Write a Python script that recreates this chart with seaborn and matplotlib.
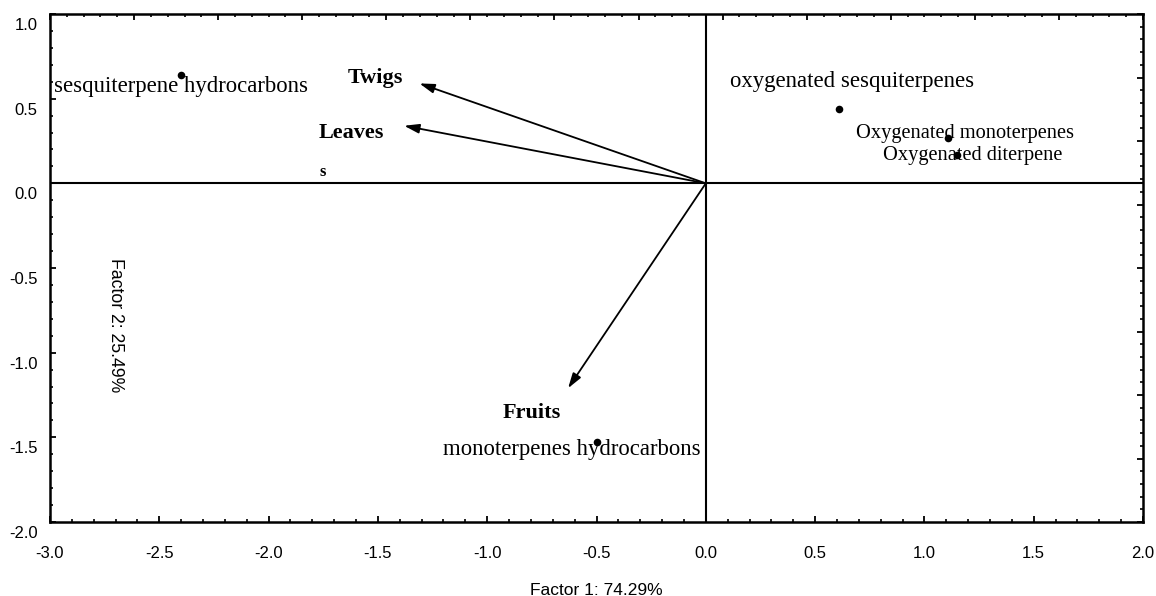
import matplotlib
matplotlib.use("Agg")
import matplotlib.pyplot as plt
import matplotlib.transforms as mtransforms
from matplotlib.ticker import MultipleLocator, FormatStrFormatter
import seaborn as sns
import pandas as pd

# ---- data ----
variables = ["sesquiterpene hydrocarbons", "oxygenated sesquiterpenes",
             "Oxygenated monoterpenes", "Oxygenated diterpene",
             "monoterpenes hydrocarbons"]
factor1 = [-2.40, 0.61, 1.11, 1.15, -0.50]
factor2 = [0.64, 0.44, 0.27, 0.17, -1.53]

organs = ["Twigs", "Leaves", "Fruits"]
load1 = [-1.31, -1.38, -0.63]
load2 = [0.59, 0.34, -1.21]

x_label = "Factor 1: 74.29%"
y_label = "Factor 2: 25.49%"

# label offsets (points) relative to their marks, and label sizes
var_offsets = [(0, -8), (9, 20), (12, 3), (11, -1), (-18, -5)]
var_sizes = [16.4, 16.4, 14.7, 14.7, 16.4]
organ_offsets = [(-32, 4), (-38, -5), (-26, -18)]

sns.set_style("white")
serif = ["Liberation Serif", "DejaVu Serif"]
sans = ["Liberation Sans", "DejaVu Sans"]
plt.rcParams["font.family"] = sans
plt.rcParams["text.color"] = "black"
plt.rcParams["axes.labelcolor"] = "black"
plt.rcParams["xtick.color"] = "black"
plt.rcParams["ytick.color"] = "black"

fig = plt.figure(figsize=(11.56, 5.96), dpi=100)
ax = fig.add_axes([50/1156, 74/596, 1093/1156, 508/596])

df = pd.DataFrame({"f1": factor1, "f2": factor2, "var": variables})
sns.scatterplot(data=df, x="f1", y="f2", ax=ax, color="black", s=30,
                edgecolor="black", linewidth=0, zorder=5, legend=False)

ax.set_xlim(-3, 2)
ax.set_ylim(-2, 1)
ax.axhline(0, color="black", lw=1.5, zorder=1)
ax.axvline(0, color="black", lw=1.5, zorder=1)

for name, x, y, (dx, dy), fs in zip(variables, factor1, factor2, var_offsets, var_sizes):
    ax.annotate(name, (x, y), xytext=(dx, dy), textcoords="offset points",
                ha="center", va="center", fontsize=fs, family=serif,
                color="black", zorder=4)

for name, x, y, (dx, dy) in zip(organs, load1, load2, organ_offsets):
    ax.annotate("", xy=(x, y), xytext=(0, 0),
                arrowprops=dict(arrowstyle="-|>,head_length=0.9,head_width=0.28",
                                color="black", lw=1.3, shrinkA=0, shrinkB=0))
    ax.annotate(name, (x, y), xytext=(dx, dy), textcoords="offset points",
                ha="center", va="center", fontsize=16, fontweight="bold",
                family=serif, color="black")
# stray clipped character near Leaves
ax.annotate("s", (load1[1], load2[1]), xytext=(-59, -33), textcoords="offset points",
            ha="center", va="center", fontsize=12, fontweight="bold",
            family=serif, color="black")

ax.set_xlabel(x_label, fontsize=12.5, labelpad=16, color="black")
ax.set_ylabel("")
ax.text(0.06, 0.388, y_label, transform=ax.transAxes, rotation=270,
        ha="center", va="center", fontsize=12.7, color="black")

ax.xaxis.set_major_locator(MultipleLocator(0.5))
ax.xaxis.set_minor_locator(MultipleLocator(0.1))
ax.yaxis.set_major_locator(MultipleLocator(0.5))
ax.yaxis.set_minor_locator(MultipleLocator(0.1))
ax.xaxis.set_major_formatter(FormatStrFormatter("%.1f"))
ax.yaxis.set_major_formatter(FormatStrFormatter("%.1f"))
ax.tick_params(axis="both", which="major", direction="in", length=4, width=1.3,
               labelsize=12, colors="black")
ax.tick_params(axis="both", which="minor", direction="in", length=2.5, width=1.2)
ax.tick_params(axis="x", which="major", pad=17)
ax.tick_params(axis="y", which="major", pad=9)
ax.tick_params(left=True, bottom=True, top=False, right=False, which="both")
for lab in ax.get_yticklabels():
    lab.set_transform(lab.get_transform() +
                      mtransforms.ScaledTranslation(0, -0.10, fig.dpi_scale_trans))

for sp in ax.spines.values():
    sp.set_color("black")
    sp.set_linewidth(1.8)

# secondary scales on top and right (ticks only)
axt = ax.twiny()
axt.set_xlim(-4, 2.5)
axt.xaxis.set_major_locator(MultipleLocator(0.5))
axt.xaxis.set_minor_locator(MultipleLocator(0.1))
axt.tick_params(axis="x", which="major", direction="in", length=4, width=1.3,
                labeltop=False)
axt.tick_params(axis="x", which="minor", direction="in", length=2.5, width=1.2)

axr = ax.twinx()
axr.set_ylim(-2.5, 1.5)
axr.yaxis.set_major_locator(MultipleLocator(0.5))
axr.yaxis.set_minor_locator(MultipleLocator(0.1))
axr.tick_params(axis="y", which="major", direction="in", length=4, width=1.3,
                labelright=False)
axr.tick_params(axis="y", which="minor", direction="in", length=2.5, width=1.2)
for a in (axt, axr):
    for sp in a.spines.values():
        sp.set_visible(False)

fig.savefig("out.png", dpi=100, facecolor="white")
